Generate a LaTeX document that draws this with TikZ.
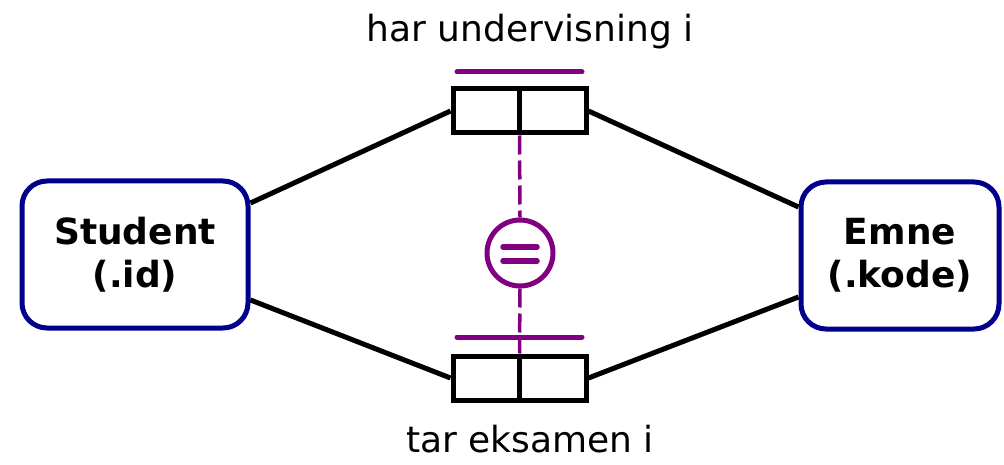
\documentclass[tikz,border=0pt]{standalone}
\usepackage{fontspec}
\setmainfont{DejaVu Sans}
\usetikzlibrary{calc}
\definecolor{entblue}{RGB}{0,0,140}
\definecolor{rulepurple}{RGB}{128,0,128}
\begin{document}
\begin{tikzpicture}[x=1pt,y=-1pt,
  entity/.style={draw=entblue,line width=5pt,rounded corners=25pt,
    minimum height=147pt,inner sep=0pt,align=center,
    font=\fontsize{36}{43}\selectfont\bfseries},
  relbox/.style={draw=black,line width=5pt,minimum width=133pt,
    minimum height=44pt,inner sep=0pt},
  link/.style={line width=5pt},
  rule/.style={draw=rulepurple,line width=5pt,line cap=round},
  ruledash/.style={draw=rulepurple,line width=3.5pt,dash pattern=on 19pt off 6pt},
  label/.style={font=\fontsize{36}{43}\selectfont,anchor=base}]
\useasboundingbox (0,0) rectangle (1004,465);

% entities
\node[entity,minimum width=226pt] (stu) at (135,254.5) {Student\\(.id)};
\node[entity,minimum width=198pt] (emne) at (900,255.5) {Emne\\(.kode)};

% relationship boxes
\node[relbox] (rel1) at (519.5,111) {};
\node[relbox] (rel2) at (519.5,378) {};
\draw[line width=5pt] (rel1.north) -- (rel1.south);
\draw[line width=5pt] (rel2.north) -- (rel2.south);

% relationship labels
\node[label] (lab1) at (530,42) {har undervisning i};
\node[label] (lab2) at (530,452) {tar eksamen i};

% connectors
\draw[link] ([yshift=51.5pt]stu.east) -- (rel1.west);
\draw[link] ([yshift=-45.5pt]stu.east) -- (rel2.west);
\draw[link] ([yshift=48.5pt]emne.west) -- (rel1.east);
\draw[link] ([yshift=-41.5pt]emne.west) -- (rel2.east);

% equality constraint between the two roles
\coordinate (bar1l) at (457,72);
\coordinate (bar1r) at (582,72);
\coordinate (bar2l) at (457,337);
\coordinate (bar2r) at (582,337);
\draw[rule] (bar1l) -- (bar1r);
\draw[rule] (bar2l) -- (bar2r);

\node[draw=rulepurple,line width=5pt,circle,minimum size=66pt,inner sep=0pt] (eq) at (520,253) {};
\draw[rule,line width=5.5pt] (503,247) -- (537,247);
\draw[rule,line width=5.5pt] (503,261) -- (537,261);

\draw[ruledash] (rel1.south) -- (eq.north);
\draw[ruledash] (eq.south) -- (rel2.north);
\end{tikzpicture}
\end{document}
